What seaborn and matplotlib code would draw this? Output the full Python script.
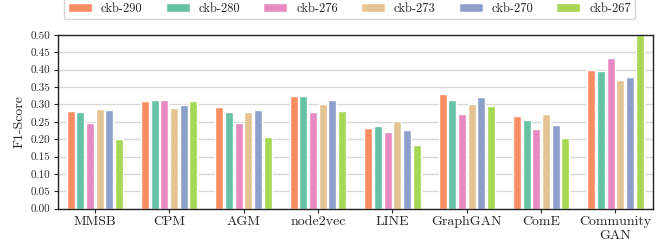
import matplotlib
matplotlib.use("Agg")
import matplotlib.pyplot as plt
import seaborn as sns
import pandas as pd

methods = ["MMSB", "CPM", "AGM", "node2vec", "LINE", "GraphGAN", "ComE", "Community\nGAN"]
series_names = ["ckb-290", "ckb-280", "ckb-276", "ckb-273", "ckb-270", "ckb-267"]
ckb_290 = [0.281, 0.310, 0.293, 0.324, 0.232, 0.330, 0.267, 0.399]
ckb_280 = [0.278, 0.313, 0.278, 0.324, 0.238, 0.313, 0.256, 0.396]
ckb_276 = [0.248, 0.313, 0.247, 0.278, 0.221, 0.273, 0.229, 0.434]
ckb_273 = [0.287, 0.290, 0.278, 0.301, 0.253, 0.301, 0.273, 0.370]
ckb_270 = [0.284, 0.298, 0.284, 0.313, 0.227, 0.322, 0.241, 0.379]
ckb_267 = [0.200, 0.310, 0.206, 0.281, 0.183, 0.296, 0.204, 0.500]
colors = ["#fc8d62", "#66c2a5", "#e78ac3", "#e5c494", "#8da0cb", "#a6d854"]
yticks = [0.00, 0.05, 0.10, 0.15, 0.20, 0.25, 0.30, 0.35, 0.40, 0.45, 0.50]

all_vals = [ckb_290, ckb_280, ckb_276, ckb_273, ckb_270, ckb_267]
rows = []
for name, vals in zip(series_names, all_vals):
    for m, v in zip(methods, vals):
        rows.append({"method": m, "series": name, "F1": v})
df = pd.DataFrame(rows)

sns.set_theme(style="white")
plt.rcParams["font.family"] = "serif"
plt.rcParams["font.serif"] = ["cmr10", "DejaVu Serif"]
plt.rcParams["axes.formatter.use_mathtext"] = True
plt.rcParams["mathtext.fontset"] = "cm"

fig = plt.figure(figsize=(6.7, 2.48), dpi=100)
ax = fig.add_axes([0.0861, 0.1585, 0.888, 0.7005])
sns.barplot(data=df, x="method", y="F1", hue="series", palette=colors,
            width=0.78, gap=0.17, ax=ax, legend=True, saturation=1)

ax.set_ylim(0, 0.5)
ax.set_xlim(-0.5, 7.5)
ax.set_yticks(yticks)
ax.set_yticklabels([f"{t:.2f}" for t in yticks], fontsize=8)
ax.tick_params(axis="x", labelsize=10, length=3, width=0.8, pad=2, direction="out", bottom=True)
ax.tick_params(axis="y", length=3, width=0.8, pad=2, direction="out", left=True)
ax.set_xlabel("")
ax.set_ylabel("F1-Score", fontsize=10)
ax.yaxis.grid(True, color="#d9d9d9", linewidth=1)
ax.set_axisbelow(True)
for s in ax.spines.values():
    s.set_visible(True)
    s.set_color("#222222")
    s.set_linewidth(1.0)

ax.legend(loc="lower center", bbox_to_anchor=(349.5 / 670, 1 - 19 / 248),
          bbox_transform=fig.transFigure, ncol=6, fontsize=9, frameon=True,
          borderaxespad=0, handlelength=1.92, handleheight=0.75, handletextpad=0.72,
          columnspacing=1.84, borderpad=0.35,
          fancybox=True, edgecolor="#cccccc", title=None)

fig.savefig("out.png", dpi=100)
